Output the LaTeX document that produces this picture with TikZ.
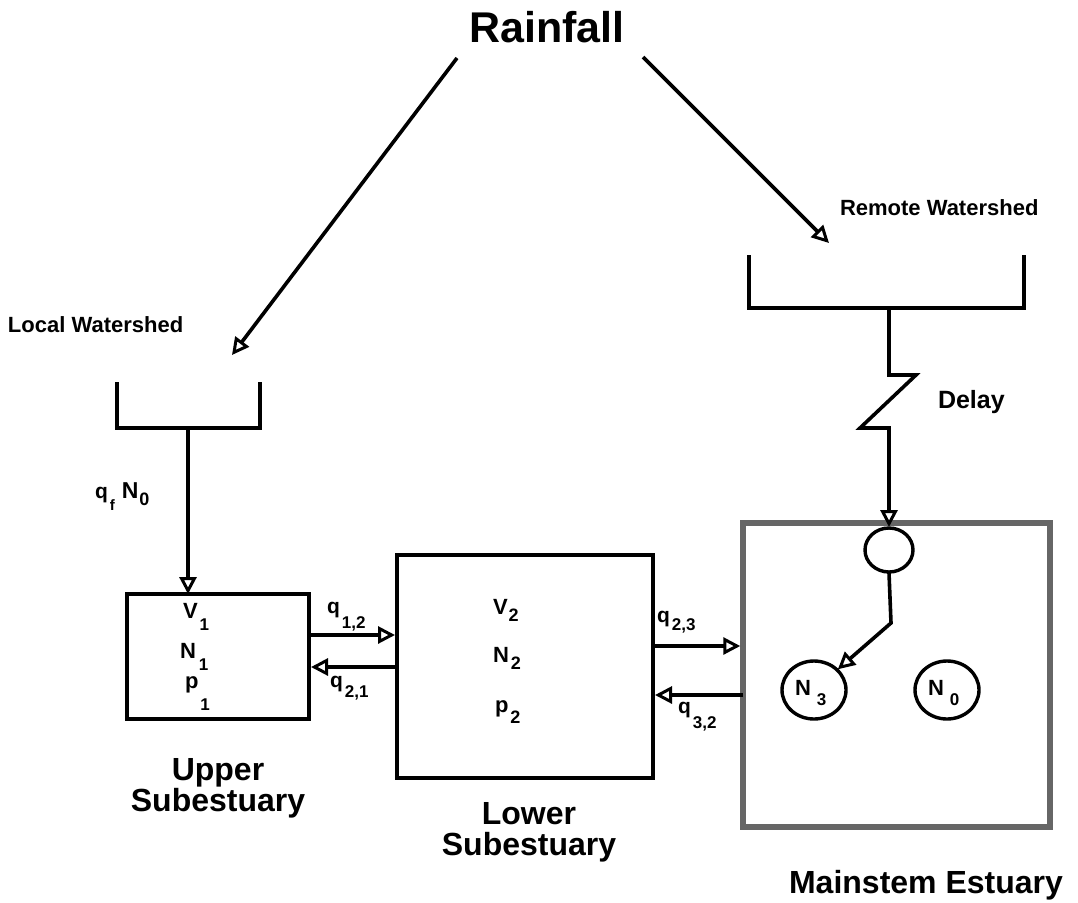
\documentclass[tikz,border=0pt]{standalone}
\usepackage{fontspec}
\setmainfont{Liberation Sans}
\usetikzlibrary{arrows.meta,shapes.geometric}
\newcommand\fs[1]{\fontsize{#1}{#1}\selectfont}
\newcommand\lsub[4]{\kern#1pt\raisebox{-#2pt}{\fs{#3}#4}}
\begin{document}
\begin{tikzpicture}[x=1pt,y=-1pt,
  txt/.style={inner sep=0pt,outer sep=0pt,font=\bfseries},
  arr/.style={line width=3.6pt,-{Triangle[open,length=17pt,width=17pt,line width=3pt]}},
  tray/.style={line width=3.6pt},
  box/.style={draw,line width=4pt,inner sep=0pt,outer sep=0pt},
  mainbox/.style={draw=black!60,line width=5.5pt,inner sep=0pt,outer sep=0pt},
  res/.style={ellipse,draw,line width=3.4pt,inner sep=0pt,outer sep=1pt},
  lbl/.style={inner sep=0pt,outer sep=0pt,font=\bfseries\fs{32},align=center}
]
\useasboundingbox[fill=white] (0,0) rectangle (1078,902);

% Rainfall
\node[txt,anchor=base] (rain) at (547,42) {\fs{43}Rainfall};
\coordinate (rainL) at (457,58);
\coordinate (rainR) at (643,57);
\coordinate (ltop) at (232,355);
\coordinate (rtop) at (829,243);
\draw[arr] (rainL) -- (ltop);
\draw[arr] (rainR) -- (rtop);

% Watershed labels
\node[txt,anchor=base west] (lw) at (8,332) {\fs{22}Local Watershed};
\node[txt,anchor=base west] (rw) at (840,215) {\fs{22}Remote Watershed};
\node[txt,anchor=base west] (delay) at (938,408) {\fs{25}Delay};

% Local tray
\draw[tray] (117,382) -- (117,428) -- (260,428) -- (260,382);
\coordinate (ltray) at (188,428);

% Remote tray
\draw[tray] (749,255) -- (749,308) -- (1024,308) -- (1024,255);
\coordinate (rtray) at (889,308);

% Boxes
\node[box,minimum width=182pt,minimum height=125pt] (box1) at (218,656.5) {};
\node[box,minimum width=256pt,minimum height=223pt] (box2) at (525,666.5) {};
\node[mainbox,minimum width=307pt,minimum height=304pt] (main) at (896.5,675) {};

% Reservoirs in mainstem
\node[res,minimum width=48pt,minimum height=44pt] (small) at (889,550) {};
\node[res,minimum width=64pt,minimum height=58pt] (n3) at (814,690) {};
\node[res,minimum width=64pt,minimum height=58pt] (n0) at (947,690) {};
\node[txt,anchor=base west] (n3t) at (795,695) {\fs{22}N\lsub{6}{10}{17}{3}};
\node[txt,anchor=base west] (n0t) at (928,695) {\fs{22}N\lsub{6}{10}{17}{0}};

% Box 1 text
\node[txt,anchor=base west] (v1) at (183,618) {\fs{22}V\lsub{2}{12}{17}{1}};
\node[txt,anchor=base west] (nn1) at (180,658) {\fs{22}N\lsub{3}{12}{17}{1}};
\node[txt,anchor=base west] (p1) at (185,688) {\fs{22}p\lsub{2}{22}{17}{1}};

% Box 2 text
\node[txt,anchor=base west] (v2) at (493,614) {\fs{22}V\lsub{1}{7}{18}{2}};
\node[txt,anchor=base west] (nn2) at (493,662) {\fs{22}N\lsub{2}{7}{18}{2}};
\node[txt,anchor=base west] (p2) at (495,712) {\fs{22}p\lsub{2}{11}{18}{2}};

% Inflow from local watershed
\draw[arr] (ltray) -- (ltray |- box1.north);
\node[txt,anchor=base west] (qf) at (95,498) {\fs{21}q\lsub{2}{12}{15}{f}\kern7pt{\fs{23}N}\lsub{1}{7}{18}{0}};

% Exchanges
\draw[arr] ([yshift=21.5pt]box1.east) -- ([yshift=31.5pt,xshift=-2pt]box2.west);
\draw[arr] ([yshift=-0.5pt]box2.west) -- ([yshift=-10.5pt,xshift=2pt]box1.east);
\draw[arr] ([yshift=20.5pt]box2.east) -- ([yshift=29pt,xshift=-2.75pt]main.west);
\draw[arr] ([yshift=-20pt]main.west) -- ([yshift=-28.5pt,xshift=2pt]box2.east);

\node[txt,anchor=base west] (q12) at (327,613) {\fs{21}q\lsub{2}{15}{17}{1,2}};
\node[txt,anchor=base west] (q21) at (330,687) {\fs{21}q\lsub{2}{10}{17}{2,1}};
\node[txt,anchor=base west] (q23) at (657,622) {\fs{21}q\lsub{2}{8}{17}{2,3}};
\node[txt,anchor=base west] (q32) at (678,713) {\fs{21}q\lsub{2}{15}{17}{3,2}};

% Delay zigzag
\draw[arr] (rtray) -- (889,375) -- (916,375) -- (860,428) -- (889,428) -- (small.north);

% Internal flow
\draw[arr] (small.south) -- (891,623) -- (n3);

% Bottom labels
\node[lbl,anchor=north] (upper) at (218,758) {Upper\\[-1pt]Subestuary};
\node[lbl,anchor=north] (lower) at (529,802) {Lower\\[-1pt]Subestuary};
\node[txt,anchor=base] (mainlbl) at (926,893) {\fs{32}Mainstem Estuary};
\end{tikzpicture}
\end{document}
